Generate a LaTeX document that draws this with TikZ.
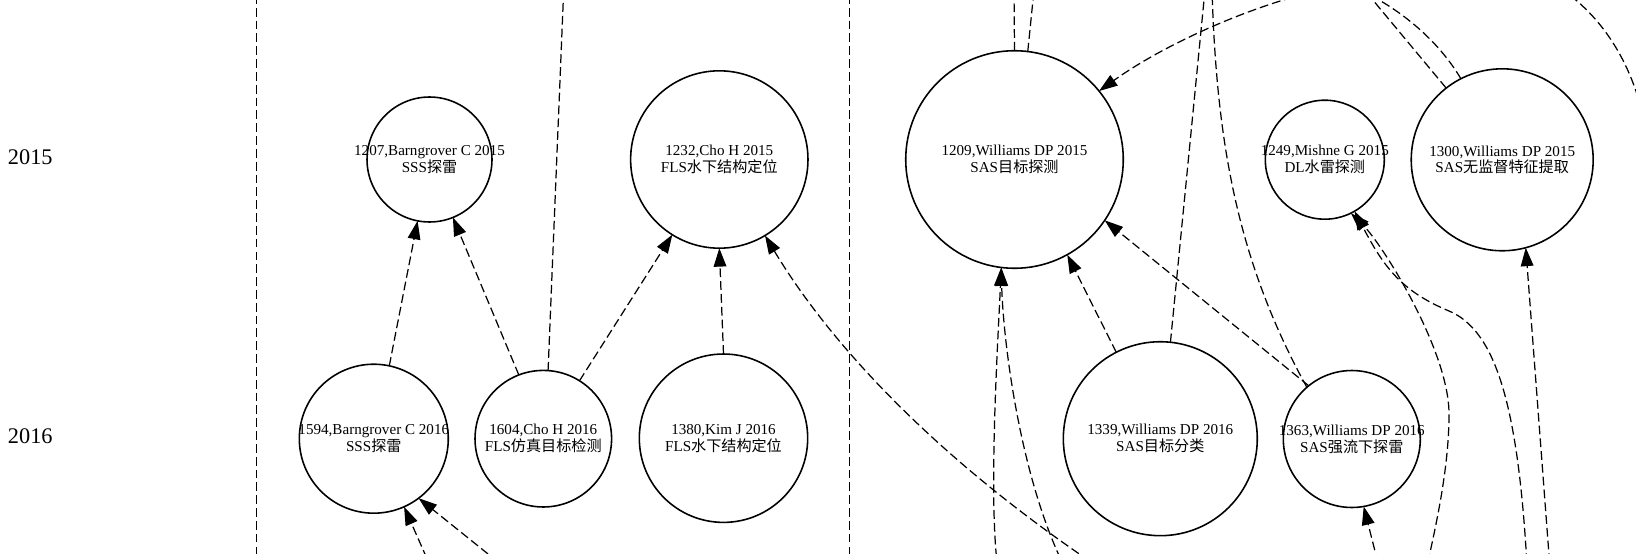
\documentclass[tikz,border=0pt]{standalone}
\usepackage{fontspec}
\setmainfont{Liberation Serif}
\newfontfamily\cjk{Noto Sans CJK SC}
\usetikzlibrary{arrows.meta}
\begin{document}
\begin{tikzpicture}[x=0.02cm,y=-0.02cm,
  paper/.style={circle, draw, line width=0.9pt, inner sep=0pt, outer sep=0pt},
  lbl/.style={align=center, font=\fontsize{8.6}{9.6}\selectfont, inner sep=0pt},
  yearlbl/.style={font=\fontsize{12.7}{14}\selectfont, inner sep=0pt},
  lnk/.style={line width=0.7pt, dash pattern=on 5pt off 2.3pt},
  cite/.style={lnk, -{Triangle[length=10.5pt,width=7.2pt]}},
  divider/.style={line width=0.7pt, dash pattern=on 5pt off 2.3pt}]
\useasboundingbox (0,0) rectangle (1636,554);

% year labels
\node[yearlbl] (y2015) at (30.3,157.5) {2015};
\node[yearlbl] (y2016) at (30.3,435.8) {2016};

% papers 2015
\node[paper, minimum size=2.50cm, label={[lbl]center:{1207,Barngrover C 2015\\SSS{\cjk 探雷}}}] (n1207) at (429.5,159.5) {};
\node[paper, minimum size=3.548cm, label={[lbl]center:{1232,Cho H 2015\\FLS{\cjk 水下结构定位}}}] (n1232) at (719.3,159.5) {};
\node[paper, minimum size=4.352cm, label={[lbl]center:{1209,Williams DP 2015\\SAS{\cjk 目标探测}}}] (n1209) at (1014.5,159.5) {};
\node[paper, minimum size=2.38cm, label={[lbl]center:{1249,Mishne G 2015\\DL{\cjk 水雷探测}}}] (n1249) at (1324.8,159.7) {};
\node[paper, minimum size=3.64cm, label={[lbl]center:{1300,Williams DP 2015\\SAS{\cjk 无监督特征提取}}}] (n1300) at (1502.2,159.8) {};

% papers 2016
\node[paper, minimum size=2.98cm, label={[lbl]center:{1594,Barngrover C 2016\\SSS{\cjk 探雷}}}] (n1594) at (373.8,438.7) {};
\node[paper, minimum size=2.732cm, label={[lbl]center:{1604,Cho H 2016\\FLS{\cjk 仿真目标检测}}}] (n1604) at (543.3,438.7) {};
\node[paper, minimum size=3.368cm, label={[lbl]center:{1380,Kim J 2016\\FLS{\cjk 水下结构定位}}}] (n1380) at (723.5,438.2) {};
\node[paper, minimum size=3.88cm, label={[lbl]center:{1339,Williams DP 2016\\SAS{\cjk 目标分类}}}] (n1339) at (1160.3,438.7) {};
\node[paper, minimum size=2.74cm, label={[lbl]center:{1363,Williams DP 2016\\SAS{\cjk 强流下探雷}}}] (n1363) at (1351.8,439) {};

% free ends (outside the visible area)
\coordinate (c3) at (563.7,-10);
\coordinate (c6) at (1100,568);
\coordinate (c7) at (432,570);
\coordinate (c8) at (508,570);
\coordinate (c9a) at (1014,-10);
\coordinate (c9b) at (1034,-10);
\coordinate (c10) at (1330,-12);
\coordinate (c11a) at (998,570);
\coordinate (c11b) at (1066,570);
\coordinate (c13) at (1205,-10);
\coordinate (c15) at (1212,-10);
\coordinate (c16a) at (1364.5,-10);
\coordinate (c16b) at (1370,-5);
\coordinate (c17a) at (1560,-12);
\coordinate (c17b) at (1645,125);
\coordinate (c18a) at (1425,575);
\coordinate (c18b) at (1527.5,575);
\coordinate (c19) at (1550.5,575);
\coordinate (c20) at (1381,575);
\coordinate (v1t) at (256.5,-5);
\coordinate (v1b) at (256.5,560);
\coordinate (v2t) at (849.3,-5);
\coordinate (v2b) at (849.3,560);

\begin{scope}
\clip (0,0) rectangle (1636,554);
% column dividers
\draw[divider] (v1t) -- (v1b);
\draw[divider] (v2t) -- (v2b);

% left group
\draw[cite] (n1594.78.9) -- (n1207.259.8);
\draw[cite] (n1604.111.6) -- (n1207.292.6);
\draw[lnk] (n1604.86.4) -- (c3);
\draw[cite] (n1604.58.2) -- (n1232.238.1);
\draw[cite] (n1380.90.8) -- (n1232.270.5);
\draw[cite] (c6) .. controls (950,468) and (837,355) .. (n1232.301.2);
\draw[cite] (c7) -- (n1594.294.1);
\draw[cite] (c8) -- (n1594.307.5);

% right group
\draw[lnk] (n1209.90) -- (c9a);
\draw[lnk] (n1209.83.6) -- (c9b);
\draw[cite] (c10) .. controls (1260,2) and (1168,41.7) .. (n1209.39.4);
\draw[cite] (c11a) .. controls (988,500) and (998,340) .. (n1209.263.2);
\draw[cite] (c11b) .. controls (1020,480) and (1003,340) .. (n1209.263.2);
\draw[cite] (n1339.117.2) -- (n1209.299.7);
\draw[lnk] (n1339.84.3) -- (c13);
\draw[cite] (n1363.129.4) -- (n1209.326);
\draw[lnk] (n1363.131) .. controls (1236.6,260) and (1216.5,140) .. (c15);
\draw[lnk] (n1300.128.6) -- (c16a);
\draw[lnk] (n1300.117) .. controls (1436,37) and (1398.5,10) .. (c16b);
\draw[lnk] (c17a) .. controls (1600,15) and (1632,60) .. (c17b);
\draw[cite] (c18a) .. controls (1435,530) and (1449,470) .. (1449,414)
  .. controls (1449,350) and (1382,244) .. (n1249.296.1);
\draw[cite] (c18b) .. controls (1519,410) and (1497,331) .. (1449,311)
  .. controls (1401,291) and (1383.7,266.7) .. (n1249.300);
\draw[cite] (c19) -- (n1300.285.3);
\draw[cite] (c20) -- (n1363.280.6);
\end{scope}
\end{tikzpicture}
\end{document}
